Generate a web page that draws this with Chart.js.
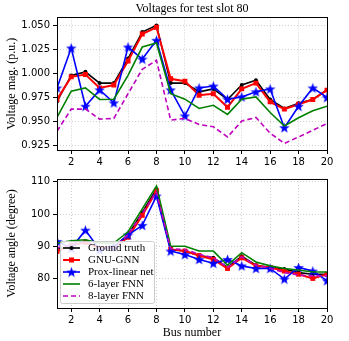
<!DOCTYPE html>
<html>
<head>
  <meta charset="UTF-8" />
  <title>Voltages for test slot 80</title>
  <script src="https://cdn.jsdelivr.net/npm/chart.js"></script>
  <style>
    body {
      margin: 0;
      background: #fff;
      width: 349px;
      height: 341px;
      overflow: hidden;
      position: relative;
    }
    #magBox { position: absolute; left: 0; top: 0; width: 349px; height: 170px; }
    #angBox { position: absolute; left: 0; top: 170px; width: 349px; height: 171px; }
  </style>
</head>
<body>
  <div id="magBox"><canvas id="magChart"></canvas></div>
  <div id="angBox"><canvas id="angChart"></canvas></div>

  <script>
    const buses = [1, 2, 3, 4, 5, 6, 7, 8, 9, 10, 11, 12, 13, 14, 15, 16, 17, 18, 19, 20];
    const xTicks = [2, 4, 6, 8, 10, 12, 14, 16, 18, 20];
    const magTicks = [0.925, 0.950, 0.975, 1.000, 1.025, 1.050];
    const angTicks = [80, 90, 100, 110];
    const seriesNames = ['Ground truth', 'GNU-GNN', 'Prox-linear net', '6-layer FNN', '8-layer FNN'];

    // voltage magnitude (p.u.)
    const magTruth = [0.971, 0.998, 1.0017, 0.990, 0.990, 1.0155, 1.043, 1.050, 0.990, 0.990, 0.981, 0.984, 0.973, 0.988, 0.993, 0.973, 0.9637, 0.969, 0.973, 0.983];
    const magGnu   = [0.973, 0.9965, 0.999, 0.985, 0.988, 1.013, 1.041, 1.048, 0.9945, 0.992, 0.9775, 0.979, 0.965, 0.984, 0.990, 0.9705, 0.963, 0.968, 0.973, 0.9827];
    const magProx  = [0.985, 1.0265, 0.966, 0.983, 0.9695, 1.0275, 1.015, 1.0345, 0.983, 0.956, 0.985, 0.987, 0.9733, 0.9757, 0.981, 0.984, 0.9437, 0.966, 0.985, 0.975];
    const magFnn6  = [0.9543, 0.9816, 0.985, 0.973, 0.9733, 0.998, 1.0275, 1.0317, 0.979, 0.9733, 0.9637, 0.967, 0.9575, 0.9733, 0.9757, 0.9595, 0.9454, 0.954, 0.9613, 0.966];
    const magFnn8  = [0.940, 0.963, 0.963, 0.9526, 0.9533, 0.979, 1.0044, 1.0137, 0.9516, 0.9533, 0.947, 0.9447, 0.934, 0.9506, 0.9543, 0.938, 0.9274, 0.934, 0.941, 0.948];

    // voltage angle (degree)
    const angTruth = [89.0, 90.0, 91.5, 89.5, 89.8, 93.5, 100.5, 107.8, 89.0, 88.5, 87.1, 86.4, 83.4, 86.9, 84.1, 83.4, 82.9, 81.8, 81.3, 81.3];
    const angGnu   = [88.4, 90.3, 91.2, 89.3, 89.5, 92.8, 99.6, 107.2, 89.0, 88.5, 87.1, 85.9, 83.1, 86.4, 83.9, 83.4, 82.3, 81.3, 80.0, 81.3];
    const angProx  = [91.5, 89.4, 95.0, 88.9, 89.8, 93.5, 96.5, 105.6, 88.5, 87.4, 85.9, 84.7, 85.9, 83.9, 83.1, 83.1, 79.8, 83.4, 82.3, 79.3];
    const angFnn6  = [91.0, 91.7, 92.0, 91.0, 91.0, 94.5, 101.6, 108.7, 90.0, 90.0, 88.5, 88.5, 84.1, 88.0, 85.1, 83.9, 83.1, 82.6, 82.0, 82.0];
    const angFnn8  = [89.5, 90.5, 91.3, 89.5, 89.7, 93.5, 100.2, 106.8, 89.2, 89.0, 87.5, 86.4, 83.4, 86.7, 84.1, 83.1, 81.8, 81.0, 80.8, 80.8];

    const serifFont = 'Liberation Serif';
    const sansFont = 'DejaVu Sans';

    function makeStar(color, size) {
      const c = document.createElement('canvas');
      c.width = size; c.height = size;
      const g = c.getContext('2d');
      const cx = size / 2, cy = size / 2, ro = size / 2, ri = ro * 0.42;
      g.beginPath();
      for (let i = 0; i < 10; i++) {
        const r = i % 2 === 0 ? ro : ri;
        const a = -Math.PI / 2 + i * Math.PI / 5;
        const px = cx + r * Math.cos(a), py = cy + r * Math.sin(a) + 0.5;
        if (i === 0) g.moveTo(px, py); else g.lineTo(px, py);
      }
      g.closePath();
      g.fillStyle = color;
      g.fill();
      return c;
    }
    const starImg = makeStar('#0000ff', 11);

    const styles = [
      { color: '#000000', width: 1.6, dash: [], point: 'circle', radius: 2 },
      { color: '#ff0000', width: 2, dash: [], point: 'rect', radius: 3.5 },
      { color: '#0000ff', width: 1.6, dash: [], point: starImg, radius: 5 },
      { color: '#008000', width: 1.6, dash: [], point: false, radius: 0 },
      { color: '#bf00bf', width: 1.6, dash: [5, 3], point: false, radius: 0 }
    ];

    function buildDatasets(seriesList) {
      return seriesList.map((vals, i) => ({
        label: seriesNames[i],
        data: buses.map((b, j) => ({ x: b, y: vals[j] })),
        borderColor: styles[i].color,
        backgroundColor: styles[i].color,
        borderWidth: styles[i].width,
        borderDash: styles[i].dash,
        pointStyle: styles[i].point,
        pointRadius: styles[i].radius,
        pointBorderWidth: 0,
        tension: 0,
        fill: false,
        order: 5 - i
      }));
    }

    const framePlugin = {
      id: 'frame',
      afterDatasetsDraw(chart) {
        const a = chart.chartArea, ctx = chart.ctx;
        ctx.save();
        ctx.strokeStyle = '#000';
        ctx.lineWidth = 1;
        ctx.strokeRect(Math.round(a.left) + 0.5, Math.round(a.top) + 0.5,
          Math.round(a.right - a.left), Math.round(a.bottom - a.top));
        ctx.restore();
      }
    };

    const legendPlugin = {
      id: 'innerLegend',
      afterDraw(chart) {
        const ctx = chart.ctx;
        const bx = 60, by = 241 - 170, bw = 94, bh = 62;
        ctx.save();
        ctx.fillStyle = 'rgba(255,255,255,0.85)';
        ctx.strokeStyle = '#cccccc';
        ctx.lineWidth = 1;
        ctx.beginPath();
        ctx.roundRect(bx + 0.5, by + 0.5, bw, bh, 2);
        ctx.fill();
        ctx.stroke();
        ctx.font = '11px "' + serifFont + '"';
        ctx.textBaseline = 'middle';
        styles.forEach((s, i) => {
          const y = by + 7 + i * 12;
          ctx.strokeStyle = s.color;
          ctx.lineWidth = s.width;
          ctx.setLineDash(s.dash);
          ctx.beginPath();
          ctx.moveTo(bx + 3, y);
          ctx.lineTo(bx + 20, y);
          ctx.stroke();
          ctx.setLineDash([]);
          ctx.fillStyle = s.color;
          const mx = bx + 11.5;
          if (s.point === 'circle') {
            ctx.beginPath(); ctx.arc(mx, y, 2, 0, Math.PI * 2); ctx.fill();
          } else if (s.point === 'rect') {
            ctx.fillRect(mx - 2.5, y - 2.5, 5, 5);
          } else if (s.point) {
            ctx.drawImage(s.point, mx - 5.5, y - 5.5);
          }
          ctx.fillStyle = '#000';
          ctx.fillText(seriesNames[i], bx + 28, y);
        });
        ctx.restore();
      }
    };

    function xScale(showTitle, height) {
      return {
        type: 'linear',
        min: 1,
        max: 20,
        afterBuildTicks: (scale) => { scale.ticks = xTicks.map(v => ({ value: v })); },
        afterFit: (scale) => { scale.height = height; },
        ticks: {
          color: '#000',
          font: { family: sansFont, size: 10 },
          padding: 2,
          maxRotation: 0,
          autoSkip: false
        },
        grid: { color: '#cfcfcf', lineWidth: 1, tickLength: 4, tickColor: '#000', drawOnChartArea: true },
        border: { display: false, dash: [1, 2] },
        title: {
          display: showTitle,
          text: 'Bus number',
          color: '#000',
          font: { family: serifFont, size: 12 },
          padding: { top: 0, bottom: 1 }
        }
      };
    }

    function yScale(min, max, ticks, fmt, label) {
      return {
        type: 'linear',
        min: min,
        max: max,
        afterBuildTicks: (scale) => { scale.ticks = ticks.map(v => ({ value: v })); },
        afterFit: (scale) => { scale.width = 57; },
        ticks: {
          color: '#000',
          font: { family: sansFont, size: 10 },
          padding: 3,
          callback: fmt
        },
        grid: { color: '#cfcfcf', lineWidth: 1, tickLength: 4, tickColor: '#000' },
        border: { display: false, dash: [1, 2] },
        title: {
          display: true,
          text: label,
          color: '#000',
          font: { family: serifFont, size: 12 },
          padding: { top: 5, bottom: 0 }
        }
      };
    }

    const magChart = new Chart(document.getElementById('magChart'), {
      type: 'line',
      data: { datasets: buildDatasets([magTruth, magGnu, magProx, magFnn6, magFnn8]) },
      options: {
        responsive: true,
        maintainAspectRatio: false,
        animation: false,
        layout: { padding: { left: 0, right: 22, top: 0, bottom: 0 } },
        plugins: {
          legend: { display: false },
          tooltip: { enabled: false },
          title: {
            display: true,
            text: 'Voltages for test slot 80',
            color: '#000',
            fullSize: false,
            font: { family: serifFont, size: 12, weight: 'normal' },
            padding: { top: 2, bottom: 1 }
          }
        },
        scales: {
          x: xScale(false, 20),
          y: yScale(0.9205, 1.0583, magTicks, v => v.toFixed(3), 'Voltage mag. (p.u.)')
        }
      },
      plugins: [framePlugin]
    });

    const angChart = new Chart(document.getElementById('angChart'), {
      type: 'line',
      data: { datasets: buildDatasets([angTruth, angGnu, angProx, angFnn6, angFnn8]) },
      options: {
        responsive: true,
        maintainAspectRatio: false,
        animation: false,
        layout: { padding: { left: 0, right: 22, top: 6, bottom: 0 } },
        plugins: {
          legend: { display: false },
          tooltip: { enabled: false }
        },
        scales: {
          x: xScale(true, 33),
          y: yScale(70.8, 110.9, angTicks, v => String(v), 'Voltage angle (degree)')
        }
      },
      plugins: [framePlugin, legendPlugin]
    });
  </script>
</body>
</html>
